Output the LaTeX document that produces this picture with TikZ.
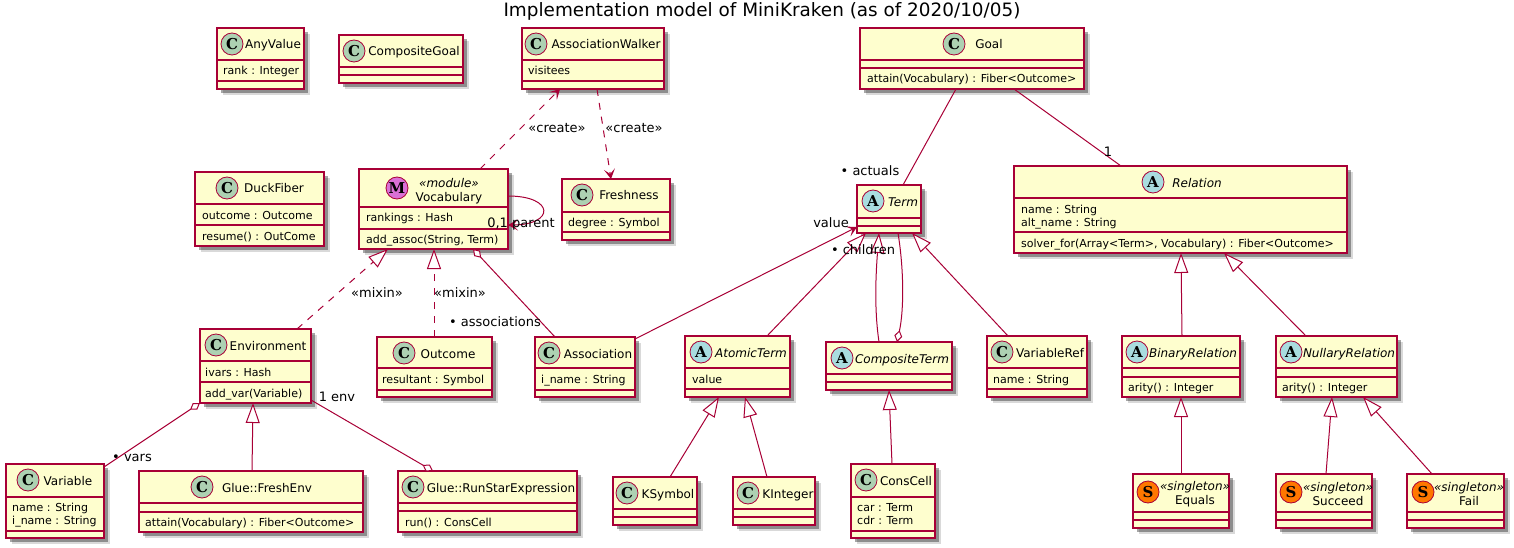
\documentclass[tikz,border=0pt]{standalone}
\usepackage{fontspec}
\setmainfont{DejaVu Sans}
\newfontfamily\iconfont{DejaVu Serif}
\usetikzlibrary{arrows.meta,shadows}
\definecolor{umlline}{HTML}{A80036}
\definecolor{umlfill}{HTML}{FEFECE}
\definecolor{spotC}{HTML}{ADD1B2}
\definecolor{spotA}{HTML}{A9DCDF}
\definecolor{spotS}{HTML}{FF7700}
\definecolor{spotM}{HTML}{DA70D6}
\tikzset{
	boxline/.style={draw=umlline, line width=1.5pt},
	classbox/.style={rectangle, boxline, fill=umlfill, inner sep=0pt, outer sep=0pt,
		drop shadow={shadow xshift=6pt, shadow yshift=-6pt, opacity=.15, fill=black},
		drop shadow={shadow xshift=4pt, shadow yshift=-4pt, opacity=.35, fill=black}},
	spot/.style={circle, draw=umlline, line width=.8pt, minimum size=22pt, inner sep=0pt,
		font=\iconfont\bfseries\fontsize{15}{15}\selectfont},
	kindC/.style={spot, fill=spotC},
	kindA/.style={spot, fill=spotA},
	kindS/.style={spot, fill=spotS},
	kindM/.style={spot, fill=spotM},
	classname/.style={inner sep=0pt, text height=11pt, text depth=1pt, font=\fontsize{12}{14}\selectfont},
	stereoname/.style={inner sep=0pt, align=center, font=\fontsize{12}{14}\selectfont},
	member/.style={anchor=west, inner sep=0pt, text height=9pt, text depth=1pt, font=\fontsize{11}{13}\selectfont},
	edgelabel/.style={inner sep=0pt, text height=11pt, text depth=1pt, font=\fontsize{13}{15}\selectfont},
	link/.style={draw=umlline, line width=1pt},
	dashedlink/.style={link, dash pattern=on 7pt off 7pt},
	arrowed/.style={-{Stealth[length=10pt,width=11pt,inset=5pt]}},
	inherit/.style={-{Triangle[length=20pt,width=14pt,fill=white]}},
	shared/.style={-{Diamond[length=12pt,width=8pt,fill=white]}},
}
% id, left, top, right, first rule, second rule, bottom
\newcommand{\classNbox}[7]{
	\node (#1) [classbox, minimum width={(#4-#2)*1pt}, minimum height={(#7-#3)*1pt}] at ({(#2+#4)/2},{(#3+#7)/2}) {};
	\draw[boxline] (#2,#5) -- (#4,#5);
	\draw[boxline] (#2,#6) -- (#4,#6);
}
% id, spot style, letter, spot x, name x, y, name
\newcommand{\classNhead}[7]{
	\node (#1spot) [#2] at (#4,#6) {#3};
	\node (#1name) [classname] at (#5,#6) {#7};
}
\newcommand{\classNstereo}[7]{
	\node (#1spot) [#2] at (#4,#6) {#3};
	\node (#1name) [stereoname] at (#5,{#6+2}) {{\itshape«#7»}\\#1};
}
\newcommand{\classNmember}[4]{
	\node (#1) [member] at (#2,#3) {#4};
}

\begin{document}
\begin{tikzpicture}[x=1pt,y=-1pt]
	\useasboundingbox (0,0) rectangle (1514,548);
	\node (title) [inner sep=0pt, font=\fontsize{18.4}{20}\selectfont] at (762,11) {Implementation model of MiniKraken (as of 2020/10/05)};

	\classNbox{anyvalue}{217}{28}{304}{60}{81}{89}
	\classNhead{anyvalue}{kindC}{C}{232}{273}{44}{AnyValue}
	\classNmember{anyvaluerank}{223}{71}{rank : Integer}

	\classNbox{compgoal}{339}{35}{463}{67}{75}{83}
	\classNhead{compgoal}{kindC}{C}{354}{414}{51}{CompositeGoal}

	\classNbox{walker}{522}{28}{664}{60}{81}{89}
	\classNhead{walker}{kindC}{C}{536}{606}{44}{AssociationWalker}
	\classNmember{walkervisitees}{528}{71}{visitees}

	\classNbox{goal}{860}{28}{1084}{60}{68}{89}
	\classNhead{goal}{kindC}{C}{954}{989}{44}{Goal}
	\classNmember{goalattain}{867}{79}{attain(Vocabulary) : Fiber<Outcome>}

	\classNbox{duckfiber}{195}{172}{324}{204}{225}{246}
	\classNhead{duckfiber}{kindC}{C}{227}{274}{188}{DuckFiber}
	\classNmember{duckoutcome}{202}{215}{outcome : Outcome}
	\classNmember{duckresume}{202}{236}{resume() : OutCome}

	\classNbox{vocab}{359}{169}{508}{207}{229}{249}
	\node (vocabspot) [kindM] at (397,188) {M};
	\node (vocabname) [stereoname] at (449,191) {{\itshape«module»}\\Vocabulary};
	\classNmember{vocabrankings}{366}{218}{rankings : Hash}
	\classNmember{vocabadd}{366}{239}{add\_assoc(String, Term)}

	\classNbox{freshness}{562}{179}{670}{212}{232}{240}
	\classNhead{freshness}{kindC}{C}{582}{629}{195}{Freshness}
	\classNmember{freshdegree}{568}{222}{degree : Symbol}

	\classNbox{term}{857}{185}{921}{218}{226}{233}
	\node (termspot) [kindA] at (873,201) {A};
	\node (termname) [classname] at (903,201) {\itshape Term};

	\classNbox{relation}{1014}{166}{1347}{198}{232}{253}
	\node (relationspot) [kindA] at (1153,182) {A};
	\node (relationname) [classname] at (1197,182) {\itshape Relation};
	\classNmember{relname}{1021}{209}{name : String}
	\classNmember{relaltname}{1021}{222}{alt\_name : String}
	\classNmember{relsolver}{1021}{243}{solver\_for(Array<Term>, Vocabulary) : Fiber<Outcome>}

	\classNbox{environment}{200}{329}{311}{361}{382}{403}
	\classNhead{environment}{kindC}{C}{216}{268}{345}{Environment}
	\classNmember{envivars}{205}{372}{ivars : Hash}
	\classNmember{envadd}{205}{393}{add\_var(Variable)}

	\classNbox{outcome}{377}{337}{492}{368}{390}{397}
	\classNhead{outcome}{kindC}{C}{404}{448}{353}{Outcome}
	\classNmember{outcomeresultant}{382}{379}{resultant : Symbol}

	\classNbox{association}{535}{337}{635}{368}{390}{397}
	\classNhead{association}{kindC}{C}{549}{598}{353}{Association}
	\classNmember{associname}{541}{379}{i\_name : String}

	\classNbox{atomic}{685}{336}{790}{368}{389}{397}
	\node (atomicspot) [kindA] at (701,352) {A};
	\node (atomicname) [classname] at (751,352) {\itshape AtomicTerm};
	\classNmember{atomicvalue}{692}{379}{value}

	\classNbox{composite}{826}{342}{952}{374}{382}{390}
	\node (compositespot) [kindA] at (842,358) {A};
	\node (compositename) [classname] at (902,358) {\itshape CompositeTerm};

	\classNbox{varref}{987}{336}{1087}{368}{389}{397}
	\classNhead{varref}{kindC}{C}{1002}{1050}{352}{VariableRef}
	\classNmember{varrefname}{993}{379}{name : String}

	\classNbox{binary}{1122}{336}{1240}{368}{377}{397}
	\node (binaryspot) [kindA] at (1137,352) {A};
	\node (binaryname) [classname] at (1193,352) {\itshape BinaryRelation};
	\classNmember{binaryarity}{1128}{387}{arity() : Integer}

	\classNbox{nullary}{1276}{336}{1397}{368}{377}{397}
	\node (nullaryspot) [kindA] at (1291,352) {A};
	\node (nullaryname) [classname] at (1349,352) {\itshape NullaryRelation};
	\classNmember{nullaryarity}{1282}{387}{arity() : Integer}

	\classNbox{Equals}{1133}{474}{1229}{512}{520}{528}
	\classNstereo{Equals}{kindS}{S}{1148}{1195}{492}{singleton}
	\classNbox{Succeed}{1276}{474}{1372}{512}{520}{528}
	\classNstereo{Succeed}{kindS}{S}{1291}{1338}{492}{singleton}
	\classNbox{Fail}{1407}{474}{1504}{512}{520}{528}
	\classNstereo{Fail}{kindS}{S}{1423}{1469}{492}{singleton}

	\classNbox{variable}{6}{464}{104}{497}{531}{538}
	\classNhead{variable}{kindC}{C}{28}{68}{480}{Variable}
	\classNmember{varname}{12}{507}{name : String}
	\classNmember{variname}{12}{520}{i\_name : String}

	\classNbox{freshenv}{139}{471}{363}{503}{512}{532}
	\classNhead{freshenv}{kindC}{C}{202}{267}{487}{Glue::FreshEnv}
	\classNmember{freshattain}{145}{522}{attain(Vocabulary) : Fiber<Outcome>}

	\classNbox{runstar}{398}{471}{577}{503}{511}{532}
	\classNhead{runstar}{kindC}{C}{413}{501}{487}{Glue::RunStarExpression}
	\classNmember{runstarrun}{405}{522}{run() : ConsCell}

	\classNbox{ksymbol}{613}{477}{697}{509}{517}{525}
	\classNhead{ksymbol}{kindC}{C}{627}{668}{493}{KSymbol}
	\classNbox{kinteger}{733}{477}{815}{509}{517}{525}
	\classNhead{kinteger}{kindC}{C}{748}{788}{493}{KInteger}

	\classNbox{conscell}{851}{464}{935}{497}{531}{538}
	\classNhead{conscell}{kindC}{C}{866}{906}{480}{ConsCell}
	\classNmember{conscar}{857}{507}{car : Term}
	\classNmember{conscdr}{857}{520}{cdr : Term}

	% connectors
	\draw[dashedlink, arrowed] ([xshift=121pt]vocab.north west) -- ([xshift=38pt]walker.south west);
	\draw[dashedlink, arrowed] ([xshift=75pt]walker.south west) -- ([xshift=49pt]freshness.north west);
	\draw[link, arrowed] ([yshift=-27pt]vocab.north east) .. controls (555,196) and (555,225) .. ([yshift=-56pt]vocab.north east);
	\draw[dashedlink, inherit] ([xshift=97pt]environment.north west) -- ([xshift=29pt]vocab.south west);
	\draw[dashedlink, inherit] ([xshift=57pt]outcome.north west) -- ([xshift=75pt]vocab.south west);
	\draw[link, shared] ([xshift=20pt]association.north west) -- ([xshift=114pt]vocab.south west);
	\draw[link, arrowed] ([yshift=-2pt]association.north east) -- ([yshift=6pt]term.south west);
	\draw[link, inherit] ([xshift=82pt]atomic.north west) -- ([xshift=9pt]term.south west);
	\draw[link, inherit] ([xshift=53pt]composite.north west) .. controls (875,315) and (875,285) .. ([xshift=22pt]term.south west);
	\draw[link, shared] ([xshift=41pt]term.south west) .. controls (904,270) and (904,310) .. ([xshift=71pt]composite.north west);
	\draw[link, inherit] ([xshift=21pt]varref.north west) -- ([xshift=55pt]term.south west);
	\draw[link] ([xshift=96pt]goal.south west) -- ([xshift=46pt]term.north west);
	\draw[link] ([xshift=154pt]goal.south west) -- ([xshift=107pt]relation.north west);
	\draw[link, inherit] ([xshift=60pt]binary.north west) -- ([xshift=167pt]relation.south west);
	\draw[link, inherit] ([xshift=30pt]nullary.north west) -- ([xshift=210pt]relation.south west);
	\draw[link, inherit] ([xshift=48pt]Equals.north west) -- ([xshift=59pt]binary.south west);
	\draw[link, inherit] ([xshift=50pt]Succeed.north west) -- ([xshift=56pt]nullary.south west);
	\draw[link, inherit] ([xshift=25pt]Fail.north west) -- ([xshift=87pt]nullary.south west);
	\draw[link, inherit] ([xshift=41pt]conscell.north west) -- ([xshift=63pt]composite.south west);
	\draw[link, inherit] ([xshift=57pt]ksymbol.north west) -- ([xshift=34pt]atomic.south west);
	\draw[link, inherit] ([xshift=34pt]kinteger.north west) -- ([xshift=60pt]atomic.south west);
	\draw[link, shared] ([yshift=-3pt]variable.north east) -- (environment.south west);
	\draw[link, inherit] ([xshift=113pt]freshenv.north west) -- ([xshift=53pt]environment.south west);
	\draw[link, shared] ([yshift=3pt]environment.south east) -- ([xshift=35pt]runstar.north west);

	% role labels
	\node (lblcreatea) [edgelabel] at (557,128) {«create»};
	\node (lblcreateb) [edgelabel] at (634,128) {«create»};
	\node (lblparent) [edgelabel] at (521,222) {0,1 parent};
	\node (lblmixina) [edgelabel] at (377,292) {«mixin»};
	\node (lblmixinb) [edgelabel] at (460,292) {«mixin»};
	\node (lblassoc) [edgelabel] at (495,321) {• associations};
	\node (lblvalue) [edgelabel] at (831,222) {value};
	\node (lblchildren) [edgelabel] at (863,249) {• children};
	\node (lblactuals) [edgelabel] at (870,171) {• actuals};
	\node (lblone) [edgelabel] at (1108,152) {1};
	\node (lblvars) [edgelabel] at (132,456) {• vars};
	\node (lblenv) [edgelabel] at (337,396) {1 env};
\end{tikzpicture}
\end{document}
